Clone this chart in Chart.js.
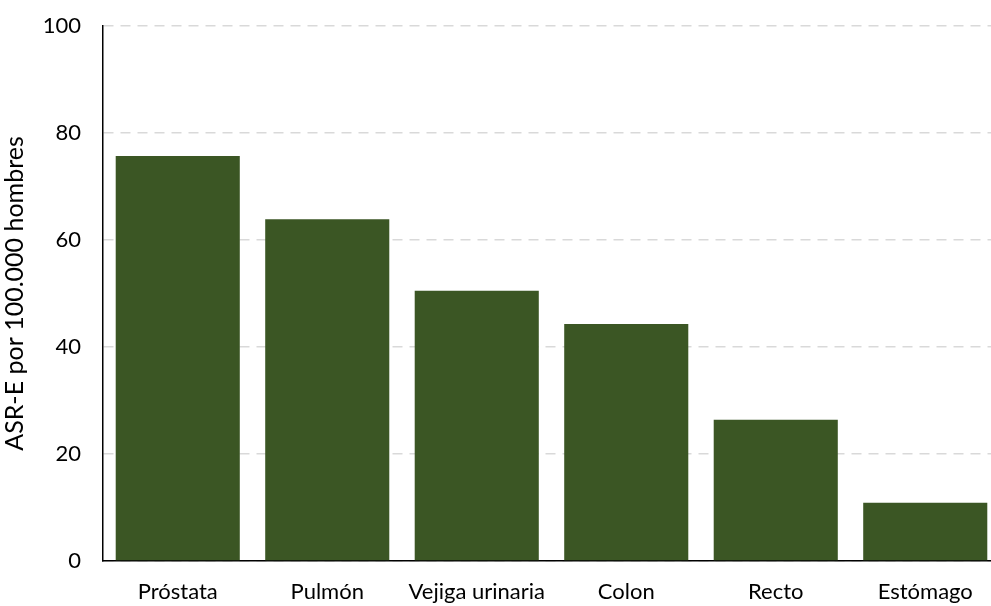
<!DOCTYPE html>
<html>
<head>
<meta charset="utf-8">
<script src="https://cdn.jsdelivr.net/npm/chart.js@4/dist/chart.umd.min.js"></script>
<style>
  html, body { margin: 0; padding: 0; background: #fff; overflow: hidden; }
  #wrap { width: 1000px; height: 606px; }
</style>
</head>
<body>
<div id="wrap"><canvas id="c" width="1000" height="606"></canvas></div>
<script>
// Incidence by cancer site (men)
const categories = ['Próstata', 'Pulmón', 'Vejiga urinaria', 'Colon', 'Recto', 'Estómago'];
const asrValues = [75.7, 63.9, 50.5, 44.3, 26.4, 10.9];
const yTicks = [0, 20, 40, 60, 80, 100];

const FONT = 'Lato, Carlito, Calibri, sans-serif';

new Chart(document.getElementById('c'), {
  type: 'bar',
  data: {
    labels: categories,
    datasets: [{
      data: asrValues,
      backgroundColor: '#3b5624',
      borderWidth: 0,
      barPercentage: 0.83,
      categoryPercentage: 1.0
    }]
  },
  options: {
    responsive: false,
    animation: false,
    devicePixelRatio: 1,
    layout: { padding: { top: 26, right: 0, bottom: 0, left: 0 } },
    plugins: { legend: { display: false }, tooltip: { enabled: false } },
    scales: {
      x: {
        grid: { display: false, drawTicks: false },
        border: { display: true, color: '#000', width: 1.5 },
        ticks: { color: '#000', font: { family: FONT, size: 22 }, padding: 18, maxRotation: 0, autoSkip: false },
        afterFit: s => { s.height = 45; s.paddingLeft = 0; s.paddingRight = 0; }
      },
      y: {
        min: 0, max: 100,
        afterBuildTicks: s => { s.ticks = yTicks.map(v => ({ value: v })); },
        grid: { color: '#d9d9d9', lineWidth: 1.5, drawTicks: false },
        border: { display: true, color: '#000', width: 1.5 },
        ticks: { color: '#000', font: { family: FONT, size: 22 }, padding: 22 },
        title: { display: true, text: 'ASR-E por 100.000 hombres', color: '#000', font: { family: FONT, size: 25 }, padding: { top: 0, bottom: 4 } },
        afterFit: s => { s.width = 103; s.paddingTop = 0; s.paddingBottom = 0; }
      }
    }
  },
  plugins: [{
    id: 'dashedGrid',
    beforeDraw(chart) {
      chart.scales.y.options.border.dash = [10, 7];
    }
  }]
});
</script>
</body>
</html>
